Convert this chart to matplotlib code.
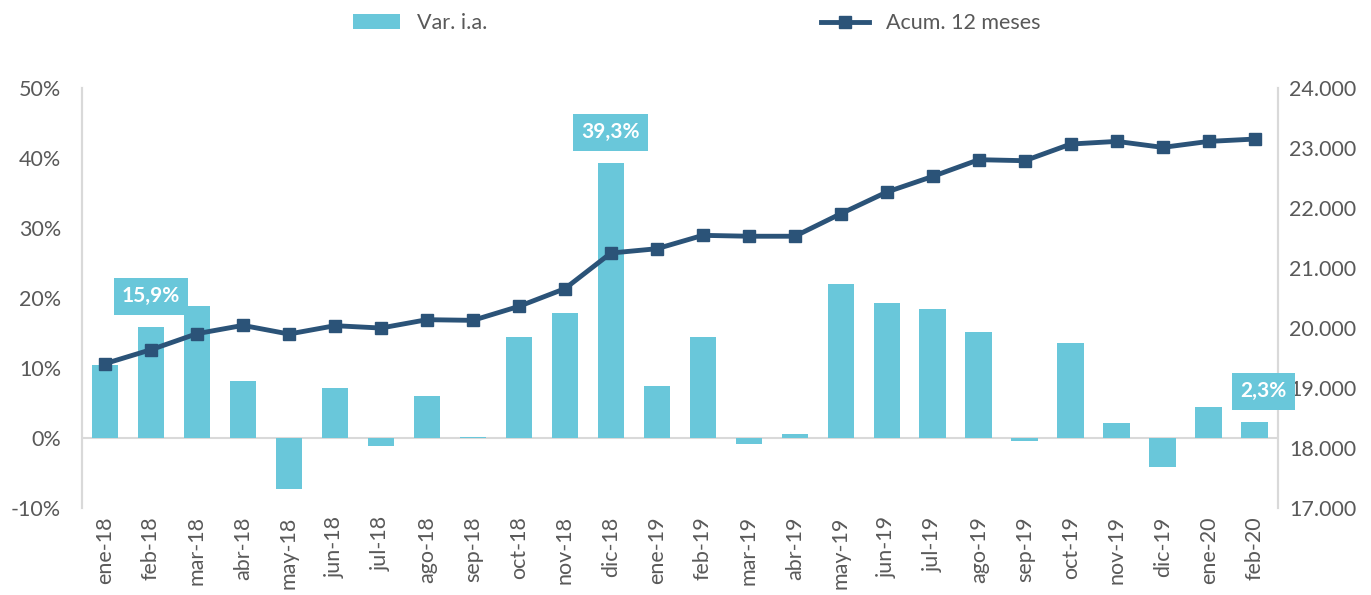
import numpy as np
import matplotlib
matplotlib.use("Agg")
import matplotlib.pyplot as plt
from matplotlib.ticker import FuncFormatter

plt.rcParams['font.family'] = ['Lato', 'DejaVu Sans']

# datos
meses = ["ene-18", "feb-18", "mar-18", "abr-18", "may-18", "jun-18", "jul-18",
         "ago-18", "sep-18", "oct-18", "nov-18", "dic-18", "ene-19", "feb-19",
         "mar-19", "abr-19", "may-19", "jun-19", "jul-19", "ago-19", "sep-19",
         "oct-19", "nov-19", "dic-19", "ene-20", "feb-20"]
var_ia = [10.5, 15.9, 18.9, 8.2, -7.3, 7.1, -1.2, 6.0, 0.2, 14.4, 17.8, 39.3,
          7.5, 14.4, -0.8, 0.6, 22.0, 19.3, 18.5, 15.1, -0.4, 13.6, 2.2, -4.2,
          4.4, 2.3]
acum12 = [19406, 19639, 19906, 20044, 19900, 20039, 20000, 20139, 20128, 20361,
          20656, 21250, 21322, 21545, 21530, 21530, 21906, 22267, 22528, 22806,
          22789, 23067, 23111, 23011, 23111, 23150]
etiquetas = {1: "15,9%", 11: "39,3%", 25: "2,3%"}

c_barra = "#69C7DA"
c_linea = "#2B5378"
c_gris = "#595959"
c_eje = "#D9D9D9"

x = np.arange(len(meses))

fig = plt.figure(figsize=(13.71, 5.95), dpi=100)
ax = fig.add_axes([0.0598, 0.1462, 0.8722, 0.7058])
ax2 = ax.twinx()

barras = ax.bar(x, var_ia, width=0.58, color=c_barra, label="Var. i.a.", zorder=2)
ax.axhline(0, color=c_eje, lw=1.5, zorder=1)
ax.set_ylim(-10, 50)
ax.set_xlim(-0.5, len(meses) - 0.5)
ax.set_yticks(np.arange(-10, 51, 10))
ax.yaxis.set_major_formatter(FuncFormatter(lambda v, p: f"{v:.0f}%"))
ax.set_xticks(x)
ax.set_xticklabels(meses, rotation=90)

linea, = ax2.plot(x, acum12, color=c_linea, lw=3.5, marker="s", markersize=9,
                  label="Acum. 12 meses", zorder=3)
ax2.set_ylim(17000, 24000)
ax2.set_yticks(np.arange(17000, 24001, 1000))
ax2.yaxis.set_major_formatter(FuncFormatter(lambda v, p: f"{v/1000:.0f}.000"))

for a in (ax, ax2):
    a.tick_params(length=0, labelsize=15.5, colors=c_gris)
    a.spines['top'].set_visible(False)
    a.spines['bottom'].set_visible(False)
    a.spines['left'].set_color(c_eje)
    a.spines['right'].set_color(c_eje)
    a.spines['left'].set_linewidth(1.5)
    a.spines['right'].set_linewidth(1.5)
ax.tick_params(axis='x', pad=6)
ax.tick_params(axis='y', pad=15)
ax2.tick_params(axis='y', pad=8)

# etiquetas de valor
for i, txt in etiquetas.items():
    dx = 0.18 if i == len(meses) - 1 else 0
    ax2.annotate(txt, xy=(x[i] + dx, var_ia[i]), xycoords=ax.transData,
                 xytext=(0, 22), textcoords="offset points", ha="center", va="center",
                 color="white", fontsize=15, fontweight="bold", zorder=5,
                 bbox=dict(boxstyle="square,pad=0.4", fc=c_barra, ec="none"))

fig.legend(handles=[barras, linea], loc="upper center", bbox_to_anchor=(0.508, 1.01),
           ncol=2, frameon=False, fontsize=15.5, handlelength=2.2,
           columnspacing=15.5, labelcolor=c_gris)

plt.savefig("out.png", dpi=100)
